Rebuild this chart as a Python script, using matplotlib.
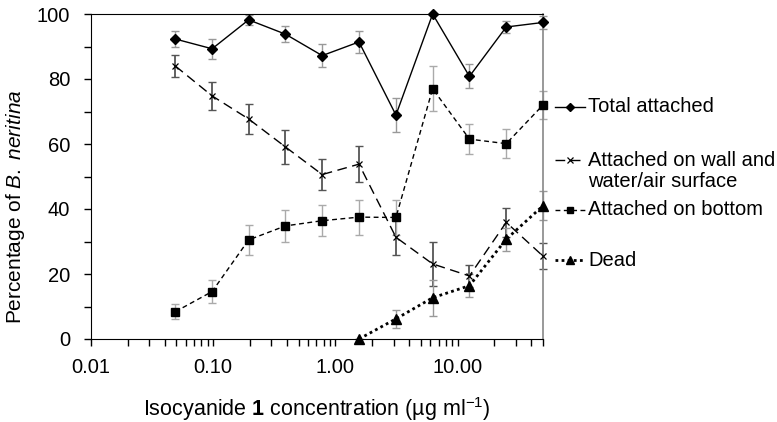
import matplotlib
matplotlib.use("Agg")
import matplotlib.pyplot as plt
from matplotlib.lines import Line2D
from matplotlib.ticker import FixedLocator, LogLocator, NullFormatter, MultipleLocator

plt.rcParams['font.family'] = ['Liberation Sans', 'DejaVu Sans']
plt.rcParams['mathtext.fontset'] = 'custom'
plt.rcParams['mathtext.rm'] = 'Liberation Sans'
plt.rcParams['mathtext.it'] = 'Liberation Sans:italic'
plt.rcParams['mathtext.bf'] = 'Liberation Sans:bold'

# concentrations (ug/ml), halving series from 50
conc = [0.049, 0.098, 0.195, 0.39, 0.78, 1.56, 3.13, 6.25, 12.5, 25, 50]

total = [92.3, 89.3, 98.2, 93.8, 87.2, 91.4, 68.9, 100.0, 80.8, 96.0, 97.4]
total_err = [2.5, 3.0, 1.5, 2.5, 3.5, 3.3, 5.2, 0.0, 3.7, 1.8, 2.0]

wall = [84.0, 74.8, 67.7, 59.1, 50.6, 53.8, 31.3, 23.1, 19.4, 35.9, 25.5]
wall_err = [3.3, 4.3, 4.5, 5.1, 4.9, 5.6, 5.4, 6.7, 3.5, 4.4, 4.1]

bottom = [8.4, 14.6, 30.5, 34.8, 36.4, 37.5, 37.4, 77.0, 61.5, 60.1, 72.0]
bottom_err = [2.3, 3.5, 4.5, 4.8, 4.7, 5.4, 5.5, 6.9, 4.6, 4.5, 4.2]

dead_conc = conc[5:]
dead = [0.0, 6.2, 12.7, 16.4, 30.7, 41.0]
dead_err = [0.0, 2.8, 5.5, 3.6, 3.5, 4.5]

labels = ['Total attached', 'Attached on wall and\nwater/air surface',
          'Attached on bottom', 'Dead']

W, H = 777, 422
fig = plt.figure(figsize=(W / 100, H / 100), dpi=100)
ax = fig.add_axes([91 / W, 1 - 339 / H, 452 / W, 325 / H])

# error bars first
ax.errorbar(conc, total, yerr=total_err, fmt='none', ecolor='#999999',
            elinewidth=1, capsize=3, clip_on=False)
ax.errorbar(conc, wall, yerr=wall_err, fmt='none', ecolor='#555555',
            elinewidth=1.3, capsize=3, clip_on=False)
ax.errorbar(conc, bottom, yerr=bottom_err, fmt='none', ecolor='#aaaaaa',
            elinewidth=1, capsize=3, clip_on=False)
ax.errorbar(dead_conc, dead, yerr=dead_err, fmt='none', ecolor='#999999',
            elinewidth=1, capsize=3, clip_on=False)

styles = [
    dict(linestyle='-', lw=1, marker='D', ms=5.5),
    dict(dashes=(7, 4), lw=1, marker='x', ms=5, mew=0.9),
    dict(dashes=(3.5, 2.5), lw=1, marker='s', ms=5.5),
    dict(linestyle=(0, (1, 1.2)), lw=2, marker='^', ms=6.5),
]

ax.plot(conc, total, color='black', clip_on=False, zorder=5, **styles[0])
ax.plot(conc, wall, color='black', clip_on=False, zorder=5, **styles[1])
ax.plot(conc, bottom, color='black', clip_on=False, zorder=5, **styles[2])
ax.plot(dead_conc, dead, color='black', clip_on=False, zorder=5, **styles[3])

ax.set_xscale('log')
ax.set_xlim(0.01, 50)
ax.set_ylim(0, 100)
ax.xaxis.set_major_locator(FixedLocator([0.01, 0.1, 1, 10]))
ax.set_xticklabels(['0.01', '0.10', '1.00', '10.00'])
ax.xaxis.set_minor_locator(LogLocator(base=10, subs=range(2, 10)))
ax.xaxis.set_minor_formatter(NullFormatter())
ax.yaxis.set_major_locator(MultipleLocator(20))
ax.yaxis.set_minor_locator(MultipleLocator(10))

ax.tick_params(which='both', direction='out', labelsize=14.5, width=1,
               length=5, colors='black')
ax.tick_params(axis='x', pad=9)
ax.tick_params(axis='y', pad=10)
ax.spines['right'].set_color('#888888')
ax.spines['right'].set_linewidth(1.2)

ax.set_ylabel(r'Percentage of $\it{B.\ neritina}$', fontsize=15)
ax.yaxis.set_label_coords(-0.142, 0.406)
ax.set_xlabel(r'Isocyanide $\bf{1}$ concentration (µg ml$^{-1}$)', fontsize=15.5,
              va='top')
ax.xaxis.set_label_coords(0.5, -0.172)

# legend drawn by hand: handle row y, text centre y (pixels from top)
rows = [(107, 107), (160, 171), (210, 210), (260, 260)]
for st, lab, (yh, yt) in zip(styles, labels, rows):
    fy = 1 - yh / H
    ln = Line2D([555 / W, 585 / W], [fy, fy], color='black',
                transform=fig.transFigure, markevery=[], **st)
    fig.add_artist(ln)
    mk = Line2D([570 / W], [fy], color='black', transform=fig.transFigure,
                linestyle='none', marker=st['marker'], ms=st['ms'] * 0.8,
                mew=st.get('mew', 1))
    fig.add_artist(mk)
    fig.text(588 / W, 1 - yt / H, lab, fontsize=14.5, va='center', ha='left',
             linespacing=1.1)

fig.savefig('out.png', dpi=100)
